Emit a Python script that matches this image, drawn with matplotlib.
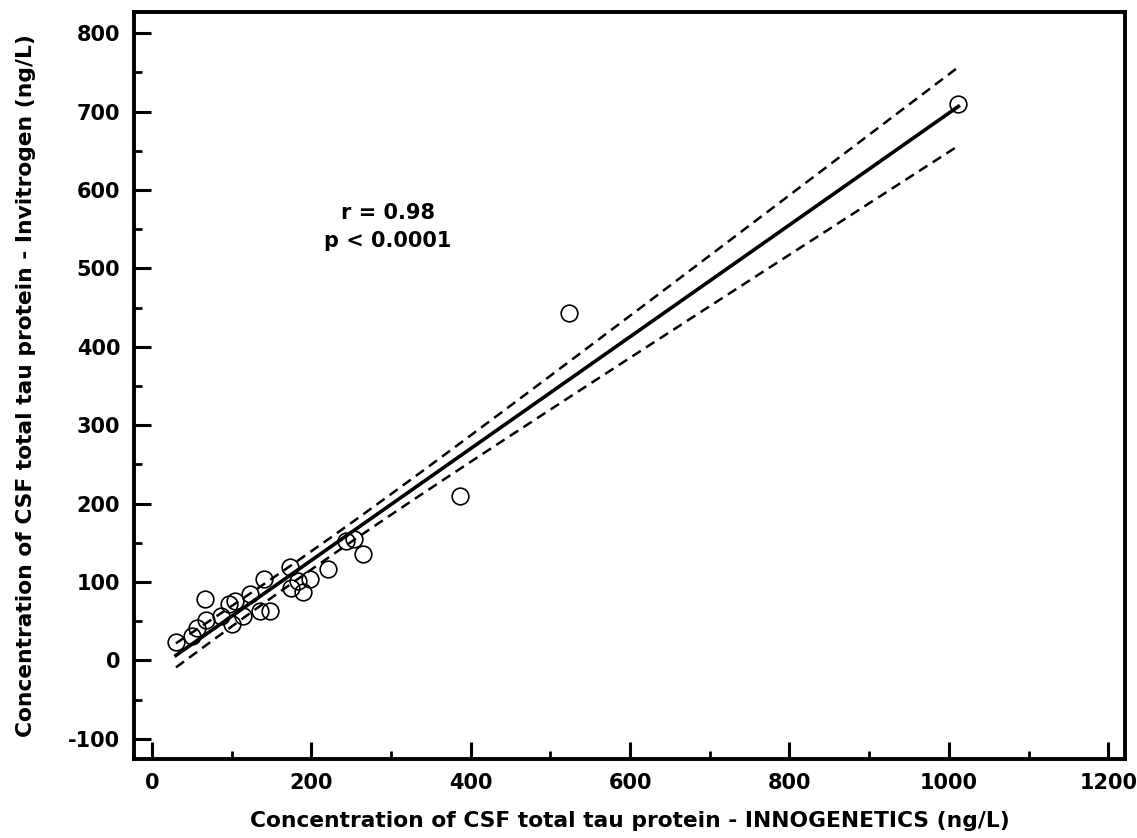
import numpy as np
import matplotlib
matplotlib.use("Agg")
import matplotlib.pyplot as plt
from matplotlib.ticker import MultipleLocator

# Data
innogenetics = [30, 50, 56, 66, 68, 87, 96, 100, 104, 114, 123, 135, 140, 148,
                173, 175, 183, 190, 198, 221, 244, 254, 265, 386, 523, 1012]
invitrogen = [24, 31, 42, 78, 52, 57, 72, 46, 76, 57, 85, 63, 104, 63,
              119, 93, 102, 87, 104, 117, 153, 155, 136, 210, 443, 710]

x_ticks = [0, 200, 400, 600, 800, 1000, 1200]
y_ticks = [-100, 0, 100, 200, 300, 400, 500, 600, 700, 800]
annotation = "r = 0.98\np < 0.0001"
t_crit = 2.064  # 95 %, df = 24

plt.rcParams['font.family'] = ['DejaVu Sans']
plt.rcParams['font.weight'] = 'bold'
plt.rcParams['axes.unicode_minus'] = False

x = np.array(innogenetics, float)
y = np.array(invitrogen, float)
slope, intercept = np.polyfit(x, y, 1)
n = len(x)
resid = y - (slope * x + intercept)
s = np.sqrt(np.sum(resid ** 2) / (n - 2))
sxx = np.sum((x - x.mean()) ** 2)
xf = np.linspace(x.min(), x.max(), 200)
yf = slope * xf + intercept
half = t_crit * s * np.sqrt(1 / n + (xf - x.mean()) ** 2 / sxx)

fig = plt.figure(figsize=(11.37, 8.38), dpi=100)
ax = fig.add_axes([0.1179, 0.0943, 0.8715, 0.8914])

ax.plot(xf, yf, color='black', lw=2.6, zorder=3)
ax.plot(xf, yf + half, color='black', lw=1.8, ls=(0, (4, 2.5)), zorder=3)
ax.plot(xf, yf - half, color='black', lw=1.8, ls=(0, (4, 2.5)), zorder=3)
ax.plot(x, y, 'o', ms=12, mfc='none', mec='black', mew=1.2, zorder=4)

ax.text(296, 553, annotation, ha='center', va='center', fontsize=15,
        fontweight='bold', linespacing=1.5)

ax.set_xlim(-22.6, 1221)
ax.set_ylim(-125.6, 827)
ax.set_xticks(x_ticks)
ax.set_yticks(y_ticks)
ax.xaxis.set_minor_locator(MultipleLocator(100))
ax.yaxis.set_minor_locator(MultipleLocator(50))
ax.tick_params(which='major', direction='in', length=12, width=2.2,
               labelsize=15, pad=10)
ax.tick_params(which='minor', direction='in', length=6, width=2.0)
for lab in ax.get_xticklabels() + ax.get_yticklabels():
    lab.set_fontweight('bold')
for sp in ax.spines.values():
    sp.set_linewidth(2.8)

ax.set_xlabel("Concentration of CSF total tau protein - INNOGENETICS (ng/L)",
              fontsize=15.7, fontweight='bold', labelpad=13)
ax.set_ylabel("Concentration of CSF total tau protein - Invitrogen (ng/L)",
              fontsize=15.7, fontweight='bold', labelpad=23)

fig.savefig("out.png", dpi=100)
